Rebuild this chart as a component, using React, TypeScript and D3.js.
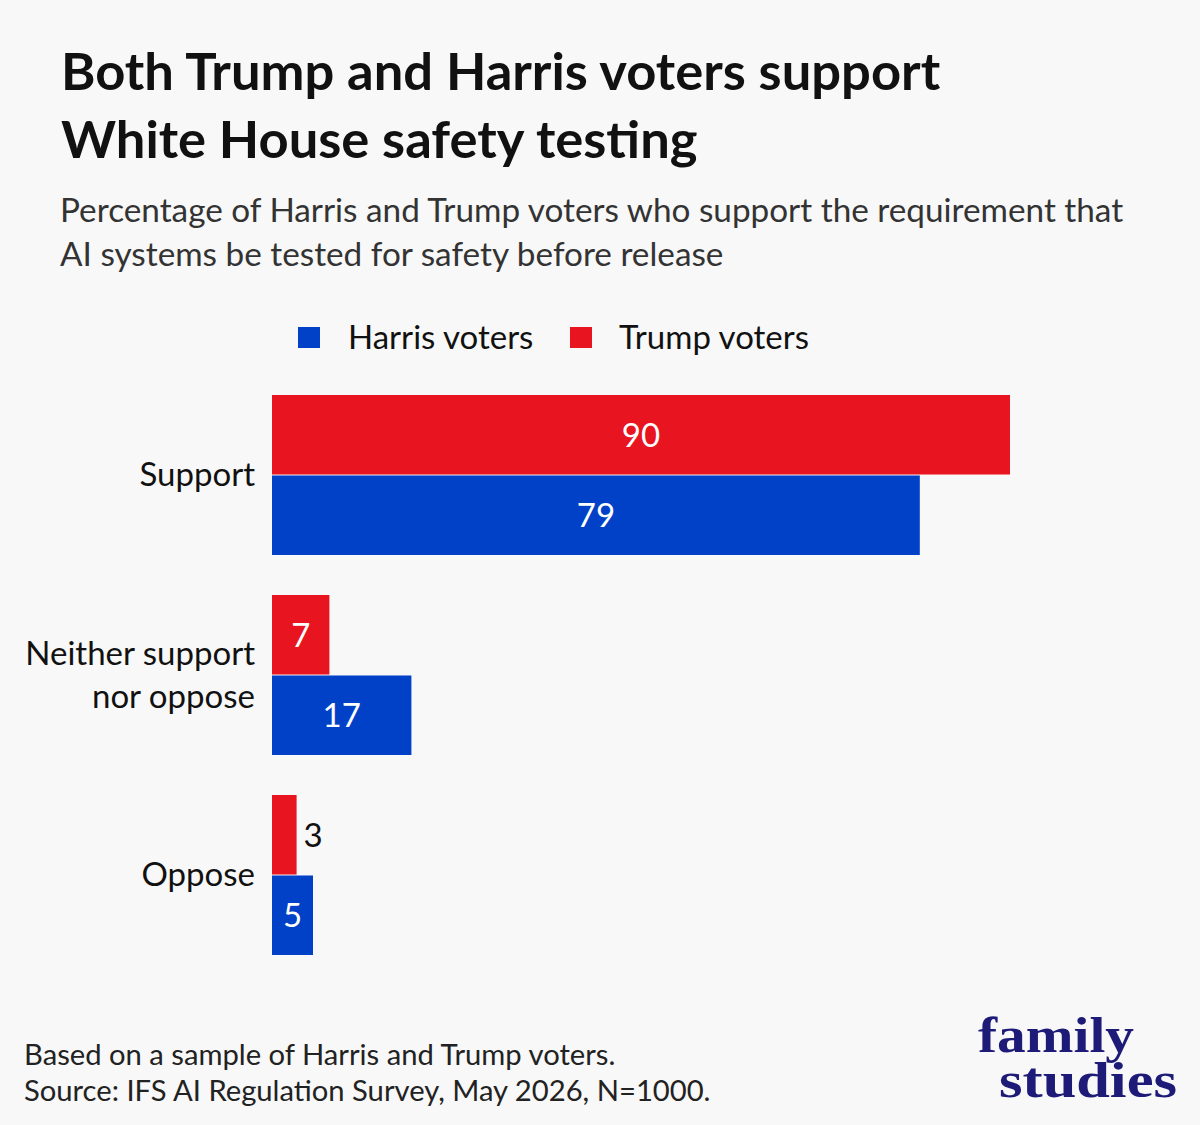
import React from 'react';
import * as d3 from "d3";

const categories = ["Support", "Neither support nor oppose", "Oppose"];
const categoryLines = [["Support"], ["Neither support", "nor oppose"], ["Oppose"]];
const seriesNames = ["Trump voters", "Harris voters"];
const trumpValues = [90, 7, 3];
const harrisValues = [79, 17, 5];
const legendOrder = ["Harris voters", "Trump voters"];

const colors: {[k: string]: string} = {
    "Trump voters": "#e8141f",
    "Harris voters": "#0041c8"
};

const W = 1200, H = 1125;
const font = "Lato, 'Open Sans', sans-serif";

const App = () => {
    //scales
    const xScale = d3.scaleLinear().domain([0, 90]).range([272, 1010]);
    const yScale = d3.scaleBand().domain(categories).range([395, 955]).paddingInner(0.2);
    const ySub = d3.scaleBand().domain(seriesNames).range([0, yScale.bandwidth()]).paddingInner(0.012);

    const rows = categories.map((c, i) => ({
        category: c,
        lines: categoryLines[i],
        values: [
            {name: "Trump voters", value: trumpValues[i]},
            {name: "Harris voters", value: harrisValues[i]}
        ]
    }));

    const legendX = [298, 570];
    const legendTextX = [348, 619];

    return (
        <div style={{position: "absolute", left: 0, top: 0}}>
            <svg width={W} height={H} style={{display: "block"}}>
                <rect x={0} y={0} width={W} height={H} fill="#f8f8f8"/>

                {/* title */}
                <text x={61} y={90} fontFamily={font} fontWeight={700} fontSize={52.5} fill="#111">Both Trump and Harris voters support</text>
                <text x={61} y={158} fontFamily={font} fontWeight={700} fontSize={52.5} fill="#111">White House safety testing</text>

                {/* subtitle */}
                <text x={60} y={222} fontFamily={font} fontSize={33.3} fill="#333">Percentage of Harris and Trump voters who support the requirement that</text>
                <text x={60} y={266} fontFamily={font} fontSize={33.3} fill="#333">AI systems be tested for safety before release</text>

                {/* legend */}
                {legendOrder.map((name, i) => (
                    <g key={name}>
                        <rect x={legendX[i]} y={327} width={22} height={21} fill={colors[name]}/>
                        <text x={legendTextX[i]} y={349} fontFamily={font} fontSize={33} fill="#111">{name}</text>
                    </g>
                ))}

                {/* bars */}
                {rows.map(r => {
                    const y0 = yScale(r.category) as number;
                    const mid = y0 + yScale.bandwidth() / 2;
                    return (
                        <g key={r.category}>
                            {r.values.map(v => {
                                const by = y0 + (ySub(v.name) as number);
                                const bw = xScale(v.value) - xScale(0);
                                const inside = bw > 35;
                                return (
                                    <g key={v.name}>
                                        <rect x={xScale(0)} y={by} width={bw} height={ySub.bandwidth()} fill={colors[v.name]}/>
                                        <text
                                            x={inside ? xScale(0) + bw / 2 : xScale(v.value) + 7}
                                            y={by + ySub.bandwidth() / 2 + 12}
                                            textAnchor={inside ? "middle" : "start"}
                                            fontFamily={font} fontSize={33}
                                            fill={inside ? "#fff" : "#111"}>{v.value}</text>
                                    </g>
                                );
                            })}
                            {r.lines.map((l, j) => (
                                <text key={l} x={255} textAnchor="end"
                                      y={mid + 11 + (j - (r.lines.length - 1) / 2) * 43}
                                      fontFamily={font} fontSize={33} fill="#111">{l}</text>
                            ))}
                        </g>
                    );
                })}

                {/* footer */}
                <text x={24} y={1065} fontFamily={font} fontSize={29.2} fill="#222">Based on a sample of Harris and Trump voters.</text>
                <text x={24} y={1101} fontFamily={font} fontSize={29.2} fill="#222">Source: IFS AI Regulation Survey, May 2026, N=1000.</text>

                {/* logo, one text block */}
                <text fontFamily="'Liberation Serif', 'DejaVu Serif', serif" fontWeight={700} fontSize={50} fill="#1d1a78">
                    <tspan x={978} y={1052} textLength={156} lengthAdjust="spacingAndGlyphs">family</tspan>
                    <tspan x={999} y={1097} textLength={178} lengthAdjust="spacingAndGlyphs">studies</tspan>
                </text>
            </svg>
        </div>
    );
};

export default App;
